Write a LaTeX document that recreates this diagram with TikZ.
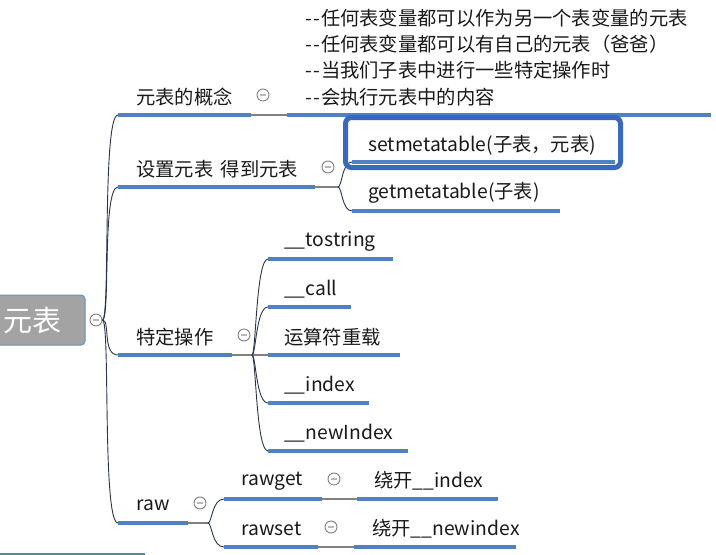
\documentclass[tikz,border=0pt]{standalone}
\usepackage{fontspec}
\setmainfont{Noto Sans CJK SC}
\definecolor{ublue}{RGB}{79,129,199}
\definecolor{boxblue}{RGB}{58,104,190}
\definecolor{navy}{RGB}{40,52,72}
\definecolor{lgray}{RGB}{128,128,128}
\definecolor{rootfill}{RGB}{163,163,163}
\definecolor{rootedge}{RGB}{90,150,195}
\definecolor{txt}{RGB}{25,25,25}
\definecolor{tealline}{RGB}{90,135,150}
\newcommand\dd{-\kern1.5pt-\kern1pt}
\begin{document}
\begin{tikzpicture}[x=1pt,y=-1pt,
  lbl/.style={anchor=west, inner sep=0pt, text=txt, font=\fontsize{19.3}{21}\selectfont},
  uline/.style={line width=4pt, draw=ublue},
  gline/.style={line width=1.6pt, draw=lgray},
  conn/.style={line width=0.9pt, draw=navy},
  fold/.style={circle, draw=gray, line width=0.9pt, fill=white, minimum size=12pt, inner sep=0pt,
    path picture={\draw[gray!55, line width=1.3pt] ([xshift=-3pt]path picture bounding box.center) -- ([xshift=3pt]path picture bounding box.center);}},
  root/.style={draw=rootedge, line width=1pt, fill=rootfill, rounded corners=4pt, minimum width=95pt, minimum height=50pt, text=white, font=\fontsize{29}{30}\selectfont},
  selbox/.style={draw=boxblue, line width=5pt, rounded corners=6pt}
]
\useasboundingbox (0,0) rectangle (716,555);

% ---------- root ----------
\node[root] (root) at (37.5,320) {元表\kern9pt\null};
\node[fold] (rf) at (96,320) {};

% ---------- level 1 ----------
\coordinate (a1s) at (118,115); \coordinate (a1e) at (251,115);
\coordinate (a2s) at (118,187); \coordinate (a2e) at (315,187);
\coordinate (a3s) at (118,355); \coordinate (a3e) at (232,355);
\coordinate (a4s) at (118,523); \coordinate (a4e) at (188,523);
\foreach \c in {a1s,a2s,a3s,a4s}{
  \draw[conn] (rf.east) .. controls ([xshift=8pt]rf.east) and ([xshift=-16pt]\c) .. (\c);
}
\node[lbl] (n1) at (136,97) {元表的概念};
\node[lbl] (n2) at (136,169) {设置元表\hspace{3pt} 得到元表};
\node[lbl] (n3) at (136,337) {特定操作};
\node[lbl] (n4) at (136,505) {raw};
\draw[uline] (a1s) -- (a1e);
\draw[uline] (a2s) -- (a2e);
\draw[uline] (a3s) -- (a3e);
\draw[uline] (a4s) -- (a4e);

% ---------- 元表的概念 ----------
\coordinate (b1s) at (287,115); \coordinate (b1e) at (711,115);
\draw[gline] (a1e) -- (b1s);
\draw[uline] (b1s) -- (b1e);
\node[fold] (f1) at (263,95) {};
\node[lbl] (note1) at (305,18) {\dd 任何表变量都可以作为另一个表变量的元表};
\node[lbl] (note2) at (305,44) {\dd 任何表变量都可以有自己的元表（爸爸）};
\node[lbl] (note3) at (305,70) {\dd 当我们子表中进行一些特定操作时};
\node[lbl] (note4) at (305,97) {\dd 会执行元表中的内容};

% ---------- 设置元表 得到元表 ----------
\node[fold] (f2) at (328,167) {};
\coordinate (j2) at (338,187);
\draw[gline] (a2e) -- (j2);
\coordinate (c1s) at (352,162); \coordinate (c1e) at (615,162);
\coordinate (c2s) at (352,211); \coordinate (c2e) at (560,211);
\draw[conn] (j2) .. controls ([xshift=4pt]j2) and ([xshift=-10pt]c1s) .. (c1s);
\draw[conn] (j2) .. controls ([xshift=4pt]j2) and ([xshift=-10pt]c2s) .. (c2s);
\draw[uline] (c1s) -- (c1e);
\draw[uline] (c2s) -- (c2e);
\node[lbl] (set) at (368,145) {setmetatable(子表，元表)};
\node[lbl] (get) at (368,193) {getmetatable(子表)};
\draw[selbox] (345.5,117.5) rectangle (620.5,167.5);

% ---------- 特定操作 ----------
\node[fold] (f3) at (244,335) {};
\coordinate (j3) at (252,355);
\coordinate (d1s) at (268,259); \coordinate (d1e) at (393,259);
\coordinate (d2s) at (268,307); \coordinate (d2e) at (351,307);
\coordinate (d3s) at (268,355); \coordinate (d3e) at (400,355);
\coordinate (d4s) at (268,403); \coordinate (d4e) at (369,403);
\coordinate (d5s) at (268,451); \coordinate (d5e) at (408,451);
\draw[gline] (a3e) -- (d3s);
\foreach \c in {d1s,d2s,d4s,d5s}{
  \draw[conn] (j3) .. controls ([xshift=4pt]j3) and ([xshift=-12pt]\c) .. (\c);
}
\foreach \i in {1,...,5}{ \draw[uline] (d\i s) -- (d\i e); }
\node[lbl] (t1) at (284,241) {\_\_tostring};
\node[lbl] (t2) at (284,289) {\_\_call};
\node[lbl] (t3) at (284,337) {运算符重载};
\node[lbl] (t4) at (284,385) {\_\_index};
\node[lbl] (t5) at (284,433) {\_\_newIndex};

% ---------- raw ----------
\node[fold] (f4) at (200,503) {};
\coordinate (j4) at (208,523);
\draw[gline] (a4e) -- (j4);
\coordinate (e1s) at (224,499); \coordinate (e1e) at (322,499);
\coordinate (e2s) at (224,547); \coordinate (e2e) at (318,547);
\draw[conn] (j4) .. controls ([xshift=4pt]j4) and ([xshift=-12pt]e1s) .. (e1s);
\draw[conn] (j4) .. controls ([xshift=4pt]j4) and ([xshift=-12pt]e2s) .. (e2s);
\draw[uline] (e1s) -- (e1e);
\draw[uline] (e2s) -- (e2e);
\node[lbl] (rg) at (241,481) {rawget};
\node[lbl] (rs) at (241,529) {rawset};
\coordinate (g1s) at (357,499); \coordinate (g1e) at (498,499);
\coordinate (g2s) at (354,547); \coordinate (g2e) at (516,547);
\draw[gline] (e1e) -- (g1s);
\draw[gline] (e2e) -- (g2s);
\draw[uline] (g1s) -- (g1e);
\draw[uline] (g2s) -- (g2e);
\node[fold] (f5) at (334,479) {};
\node[fold] (f6) at (331,527) {};
\node[lbl] (h1) at (374,481) {绕开\_\_index};
\node[lbl] (h2) at (372,529) {绕开\_\_newindex};

% ---------- partial node at bottom ----------
\coordinate (p1) at (0,554); \coordinate (p2) at (145,554);
\draw[tealline, line width=2pt] (p1) -- (p2);
\end{tikzpicture}
\end{document}
